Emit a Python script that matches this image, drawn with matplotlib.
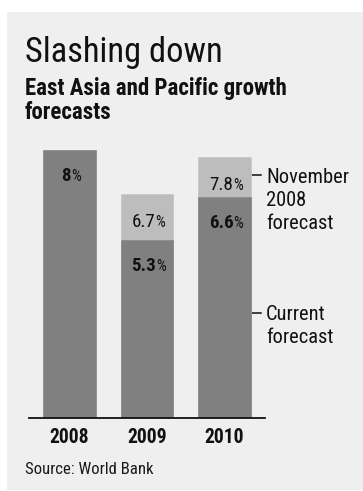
import matplotlib
matplotlib.use("Agg")
import matplotlib.pyplot as plt
from matplotlib.patches import Rectangle
from matplotlib.transforms import offset_copy
from matplotlib import font_manager

years = ["2008", "2009", "2010"]
current = [8.0, 5.3, 6.6]
november = [None, 6.7, 7.8]
current_labels = ["8", "5.3", "6.6"]
november_labels = [None, "6.7", "7.8"]

W, H = 363, 491
DPI = 100

available = {f.name for f in font_manager.fontManager.ttflist}
FONT = "DejaVu Sans"
for cand in ["Liberation Sans Narrow", "Roboto Condensed", "Open Sans Condensed",
             "DejaVu Sans Condensed", "Roboto", "Lato"]:
    if cand in available:
        FONT = cand
        break
plt.rcParams['font.family'] = [FONT, 'DejaVu Sans']

fig = plt.figure(figsize=(W / DPI, H / DPI), dpi=DPI)
fig.patch.set_facecolor("white")
renderer = fig.canvas.get_renderer()

def fx(x):
    return x / W

def fy(y):
    return 1 - y / H

def fit(t, target_w):
    w = t.get_window_extent(renderer).width
    t.set_fontsize(t.get_fontsize() * target_w / w)
    return t

INK = "#111111"

# background panel
bg = fig.add_axes([0, 0, 1, 1], zorder=-5)
bg.set_axis_off()
bg.set_xlim(0, W)
bg.set_ylim(H, 0)
bg.add_patch(Rectangle((7, 12), 356, 478, facecolor="#efefef", edgecolor="none"))

DARK = "#808080"
LIGHT = "#bdbdbd"

ax = fig.add_axes([fx(29), fy(418), fx(265 - 29), (418 - 150) / H], zorder=2)
ax.set_facecolor("none")
ax.set_xlim(-0.523, 2.523)
ax.set_ylim(0, 8)
for s in ["top", "right", "left"]:
    ax.spines[s].set_visible(False)
ax.spines["bottom"].set_color(INK)
ax.spines["bottom"].set_linewidth(1.3)
ax.set_yticks([])
ax.set_xticks(range(len(years)))
ax.tick_params(axis="x", length=0)
ax.set_xticklabels([])

bw = 0.684
xs = list(range(len(years)))
for i in xs:
    if november[i] is not None:
        ax.bar(i, november[i], width=bw, color=LIGHT, edgecolor="#c8c8c8",
               linewidth=0.6, zorder=1)
    ax.bar(i, current[i], width=bw, color=DARK, edgecolor="#8c8c8c",
           linewidth=0.6, zorder=2)

# year labels (category axis labels), baseline at y=443 px
ytrans = offset_copy(ax.get_xaxis_transform(), fig, x=0, y=-(443 - 418), units="dots")
for i, yr in enumerate(years):
    t = ax.text(i, 0, yr, ha="center", va="baseline", fontsize=15,
                fontweight="bold", color=INK, transform=ytrans)
    fit(t, 40)

def pct_label(x, y, num, bold, dy_px, fs):
    tn = ax.text(x, y, num, ha="left", va="baseline", fontsize=fs,
                 fontweight="bold" if bold else "normal", color=INK, zorder=5)
    tp = ax.text(x, y, "%", ha="left", va="baseline", fontsize=fs * 0.82,
                 color=INK, zorder=5)
    wn = tn.get_window_extent(renderer).width
    wp = tp.get_window_extent(renderer).width
    start = -(wn + wp) / 2 + 1.5
    tn.set_transform(offset_copy(ax.transData, fig, x=start, y=-dy_px, units="dots"))
    tp.set_transform(offset_copy(ax.transData, fig, x=start + wn + 0.3, y=-dy_px,
                                 units="dots"))

probe = ax.text(0, 0, "6.7", fontsize=14)
fit(probe, 24)
PFS = probe.get_fontsize()
probe.remove()

for i in xs:
    pct_label(i, current[i], current_labels[i], True, 31, PFS)
    if november[i] is not None:
        pct_label(i, november[i], november_labels[i], False, 33, PFS)

# right-side callouts
probe = fig.text(0, 0, "November", fontsize=16)
fit(probe, 83)
CFS = probe.get_fontsize()
probe.remove()

fig.add_artist(plt.Line2D([fx(248), fx(261)], [fy(175), fy(175)],
                          color=INK, lw=1.1))
for k, line in enumerate(["November", "2008", "forecast"]):
    fig.text(fx(266), fy(183 + 23 * k), line, ha="left", va="baseline",
             fontsize=CFS, color=INK)
fig.add_artist(plt.Line2D([fx(248), fx(261)], [fy(313), fy(313)],
                          color=INK, lw=1.1))
for k, line in enumerate(["Current", "forecast"]):
    fig.text(fx(266), fy(320 + 23 * k), line, ha="left", va="baseline",
             fontsize=CFS, color=INK)

# titles
fit(fig.text(fx(25), fy(62), "Slashing down", ha="left", va="baseline",
             fontsize=22, color=INK, fontweight="normal"), 198)
sub = fig.text(fx(25), fy(95), "East Asia and Pacific growth", ha="left",
               va="baseline", fontsize=14, fontweight="bold", color=INK)
fit(sub, 263)
fig.text(fx(25), fy(119), "forecasts", ha="left", va="baseline",
         fontsize=sub.get_fontsize(), fontweight="bold", color=INK)
fit(fig.text(fx(25), fy(474), "Source: World Bank", ha="left", va="baseline",
             fontsize=11, color="#1a1a1a"), 129)

fig.savefig("out.png", dpi=DPI)
